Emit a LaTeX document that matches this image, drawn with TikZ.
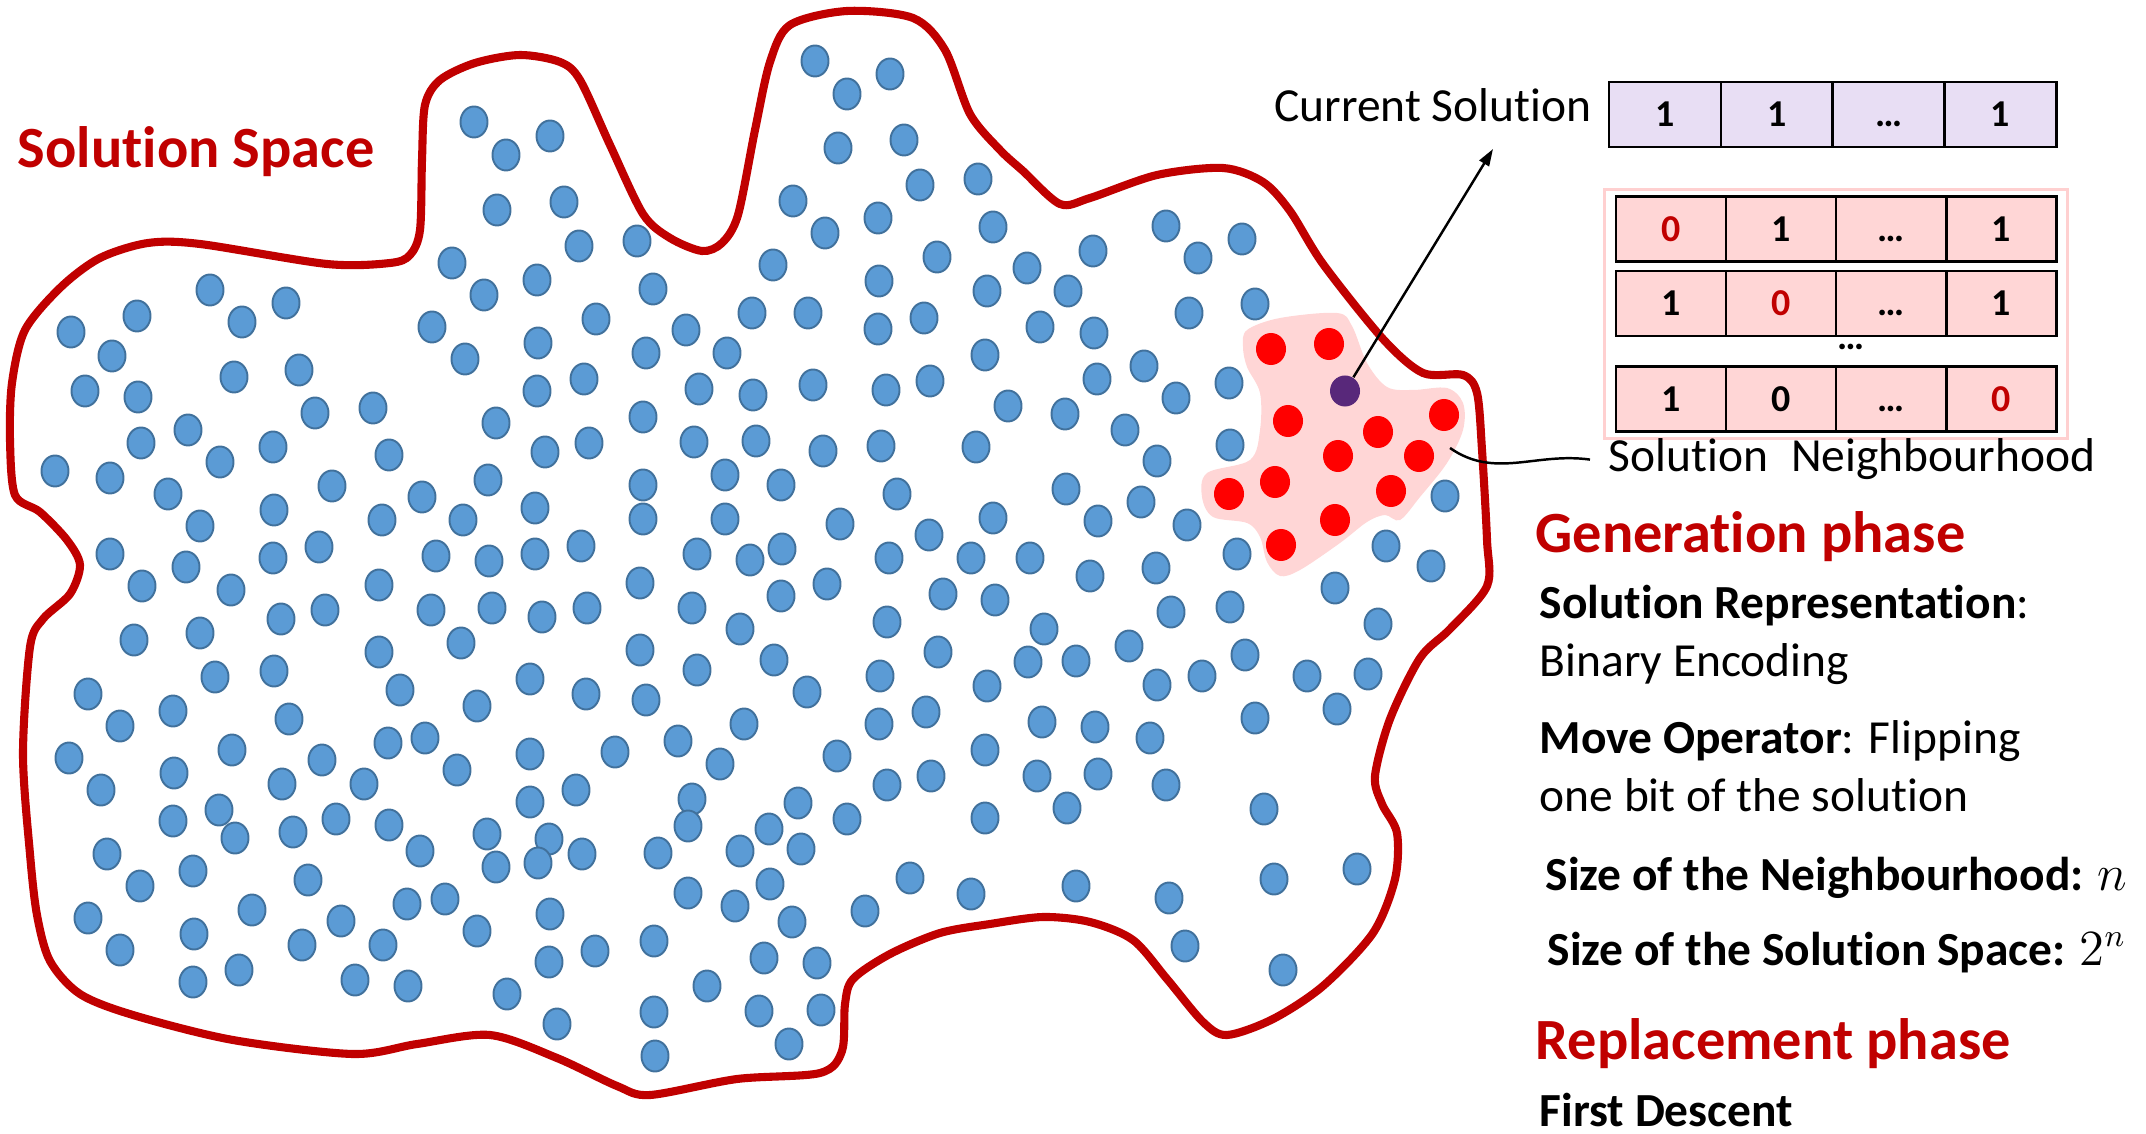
\documentclass[tikz,border=0pt]{standalone}
\usepackage{fontspec}
\setmainfont{Carlito}[Ligatures=NoCommon]
\usetikzlibrary{arrows.meta,shapes.geometric,positioning,fit}
\definecolor{spacered}{RGB}{192,0,0}
\definecolor{dotblue}{RGB}{91,155,213}
\definecolor{dotedge}{RGB}{65,113,156}
\definecolor{nbpink}{RGB}{255,214,214}
\definecolor{curlilac}{RGB}{232,222,244}
\definecolor{curpurple}{RGB}{88,40,122}
\definecolor{framepink}{RGB}{255,208,208}
\newcommand{\headfont}{\fontsize{16.6}{19}\selectfont\bfseries}
\newcommand{\bodyfont}{\fontsize{13.5}{16.4}\selectfont}
\newcommand{\cellfont}{\fontsize{10.8}{12}\selectfont\bfseries}

\begin{document}
\begin{tikzpicture}
[x=0.01cm,y=-0.01cm,
    bdot/.style={shape=ellipse,fill=dotblue,draw=dotedge,line width=.55pt,inner sep=0pt,minimum width=.27cm,minimum height=.31cm},
    rdot/.style={shape=ellipse,fill=red,inner sep=0pt,minimum width=.30cm,minimum height=.32cm},
    cell/.style={draw=black,line width=.75pt,inner sep=0pt,outer sep=0pt,minimum height=.65cm,text height=7pt,text depth=0pt,font=\cellfont},
    curcell/.style={cell,fill=curlilac,minimum width=1.1175cm},
    nbcell/.style={cell,fill=nbpink,minimum width=1.10cm},
    bitred/.style={text=spacered},
    head/.style={anchor=base west,inner sep=0pt,text=spacered,font=\headfont},
    txt/.style={anchor=base west,inner sep=0pt,font=\bodyfont},
    link/.style={black,line width=.7pt}]
\useasboundingbox (0,0) rectangle (2146,1134);
%%%%%%%%%%
%% neighbourhood patch
\fill[nbpink] plot[smooth cycle,tension=.55] coordinates {(1247,330) (1280,318) (1337,313) (1352,326) (1367,363) (1387,387) (1413,390) (1447,388) (1463,403) (1463,430) (1447,463) (1420,497) (1400,520) (1385,515) (1367,522) (1340,543) (1300,570) (1280,576) (1267,562) (1260,537) (1247,523) (1213,517) (1202,497) (1207,473) (1250,460) (1260,430) (1260,393) (1247,367) (1243,347)};
%%
%% solutions
\foreach \x/\y [count=\i] in {474/122,452/263,484/295,210/290,286/303,137/316,242/322,71/332,112/356,432/327,465/359,234/377,299/370,85/391,138/397,315/413,373/408,188/430,141/443,273/447,220/462,389/455,55/471,110/478,168/494,332/486,488/480,274/510,200/526,382/520,422/497,463/520,
506/155,550/136,497/210,564/202,579/246,637/241,537/280,653/289,596/319,538/343,646/353,686/330,727/353,752/313,773/265,793/201,815/61,847/94,890/74,838/148,904/140,920/185,978/179,825/233,878/218,937/257,993/227,879/281,808/313,878/329,924/318,987/291,985/355,537/391,584/379,699/389,753/395,813/385,886/390,930/381,1008/406,496/423,643/417,545/452,589/443,694/442,756/441,823/451,881/446,976/447,643/485,725/475,781/485,897/494,840/524,929/535,993/518,535/508,643/519,725/519,
110/554,186/567,142/586,231/590,273/558,319/547,379/585,436/556,489/561,431/610,492/608,134/640,200/633,281/619,325/610,379/652,461/643,215/677,274/671,88/694,173/711,120/726,289/719,400/690,477/706,69/758,232/750,322/760,388/743,425/738,457/770,101/790,174/773,282/784,364/784,173/821,219/810,235/838,293/832,336/819,389/825,420/851,487/834,496/867,107/854,140/886,193/871,308/880,252/910,88/918,120/950,194/934,302/945,341/921,407/904,445/899,477/931,383/945,193/982,239/970,355/980,408/986,
535/554,581/546,697/554,750/560,782/549,889/558,971/558,640/583,542/617,587/608,692/608,740/629,781/596,827/584,943/594,995/600,887/622,640/650,697/670,774/660,938/652,880/676,530/679,586/694,646/700,807/692,987/686,879/724,926/712,744/724,678/741,720/764,837/756,985/750,530/754,615/752,887/785,931/776,576/790,530/802,692/799,688/826,798/803,847/819,985/818,549/839,538/863,582/854,658/853,769/829,740/851,801/849,770/884,688/893,735/906,910/878,971/894,865/911,792/922,550/914,654/941,595/951,549/962,764/958,817/963,707/986,507/994,654/1012,759/1011,821/1010,557/1024,789/1044,655/1056,
1093/251,1027/268,1166/226,1198/258,1242/239,1068/291,1040/327,1094/333,1189/313,1255/304,1144/366,1097/379,1229/383,1176/398,1065/414,1125/430,1230/445,1157/461,1066/489,1141/502,1187/525,1098/521,1445/496,
1030/558,1090/576,1156/568,1237/554,1386/546,1431/566,1335/588,1044/629,1171/612,1230/607,1378/624,1028/662,1076/661,1129/646,1245/655,1157/685,1202/676,1307/676,1368/674,1337/709,1042/722,1095/727,1150/738,1255/718,1037/776,1098/774,1166/785,1067/808,1264/809,1076/886,1169/898,1274/879,1357/869,1185/946,1283/970}
  \node[bdot] (b\i) at (\x,\y) {};
\foreach \x/\y [count=\i] in {1271/349,1329/344,1288/421,1378/432,1444/415,1338/456,1419/456,1275/482,1229/494,1391/491,1335/520,1281/545}
  \node[rdot] (r\i) at (\x,\y) {};
\node[rdot,fill=curpurple,minimum height=.31cm] (cur) at (1345,391) {};
%%
%% solution space
\draw[spacered,line width=2.3pt] plot[smooth cycle,tension=.5] coordinates {(10,440) (12,383) (25,330) (61,287) (100,258) (148,243) (200,244) (327,264) (390,263) (410,255) (420,230) (422,160) (425,105) (440,80) (475,63) (520,55) (560,62) (580,80) (610,145) (643,214) (670,238) (702,251) (722,243) (738,215) (755,130) (770,62) (790,25) (847,11) (913,18) (945,50) (970,114) (1000,150) (1023,171) (1060,204) (1090,198) (1157,175) (1223,168) (1263,182) (1290,211) (1323,264) (1383,339) (1423,373) (1463,375) (1477,393) (1482,450) (1487,540) (1487,586) (1450,629) (1420,658) (1390,719) (1375,776) (1382,804) (1397,833) (1395,879) (1373,933) (1323,986) (1273,1019) (1227,1035) (1203,1022) (1167,979) (1133,940) (1090,922) (1043,917) (990,924) (940,933) (890,954) (853,979) (845,1004) (842,1051) (820,1073) (737,1079) (650,1095) (617,1086) (557,1058) (490,1035) (417,1044) (353,1054) (233,1040) (133,1015) (80,994) (50,961) (37,915) (30,854) (23,754) (30,647) (43,619) (70,594) (80,565) (67,540) (40,512) (15,495)};
\node[head] (spacelbl) at (17,168) {Solution Space};
%%%%%%%%%%
%% current solution
\node[curcell] (cs1) at (1665,114.5) {1};
\node[curcell,right=0pt of cs1] (cs2) {1};
\node[curcell,right=0pt of cs2] (cs3) {\textellipsis};
\node[curcell,right=0pt of cs3] (cs4) {1};
\node[txt,anchor=base east] (cstext) at (1592,122) {Current Solution};
\coordinate (cstip) at (1493,149);
\draw[link,-{Triangle[length=.17cm,width=.11cm]}] (cur) -- (cstip);
%%
%% neighbourhood
\node[nbcell] (na1) at (1671,229) {\textcolor{spacered}{0}};
\node[nbcell,right=0pt of na1] (na2) {1};
\node[nbcell,right=0pt of na2] (na3) {\textellipsis};
\node[nbcell,right=0pt of na3] (na4) {1};
\node[nbcell] (nb1) at (1671,303.5) {1};
\node[nbcell,right=0pt of nb1] (nb2) {\textcolor{spacered}{0}};
\node[nbcell,right=0pt of nb2] (nb3) {\textellipsis};
\node[nbcell,right=0pt of nb3] (nb4) {1};
\node[font=\cellfont,anchor=base,inner sep=0pt] (nbdots) at (1851,350) {\textellipsis};
\node[nbcell] (nc1) at (1671,399) {1};
\node[nbcell,right=0pt of nc1] (nc2) {0};
\node[nbcell,right=0pt of nc2] (nc3) {\textellipsis};
\node[nbcell,right=0pt of nc3] (nc4) {\textcolor{spacered}{0}};
\node[draw=framepink,line width=.85pt,fit=(na1)(nc4),inner xsep=.11cm,inner ysep=.065cm] (nbhd) {};
\node[txt] (nbtext) at (1608,472) {Solution\hspace{.49em}Neighbourhood};
\coordinate (nbout) at (1450,448);
\draw[link] (nbout) to[out=-35,in=172] ([xshift=-.18cm]nbtext.west);
%%%%%%%%%%
%% phases
\node[head] (genlbl) at (1535,553) {Generation phase};
\node[txt] (rep1) at (1539,619) {\textbf{Solution Representation}:};
\node[txt] (rep2) at (1539,676) {Binary Encoding};
\node[txt] (mov1) at (1539,753) {\textbf{Move Operator}: Flipping};
\node[txt] (mov2) at (1539,811) {one bit of the solution};
\node[txt] (nsize) at (1545,890) {\textbf{Size of the Neighbourhood:} $n$};
\node[txt] (ssize) at (1547,965) {\textbf{Size of the Solution Space:} $2^n$};
\node[head] (replbl) at (1535,1059) {Replacement phase};
\node[txt] (desc) at (1539,1126) {\textbf{First Descent}};
\end{tikzpicture}
\end{document}
